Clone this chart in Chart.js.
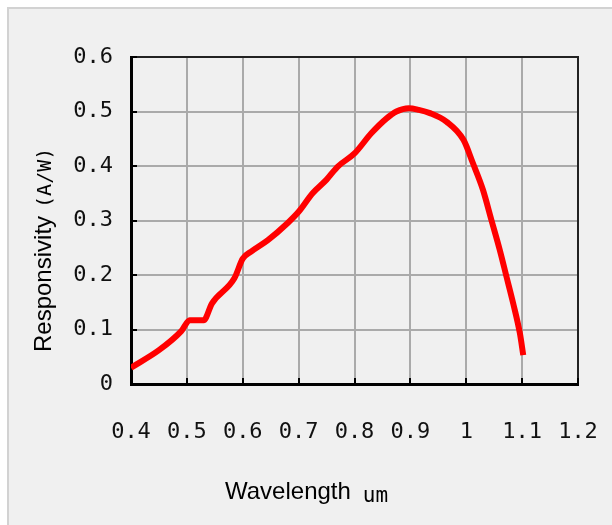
<!DOCTYPE html>
<html>
<head>
<meta charset="utf-8">
<script src="https://cdn.jsdelivr.net/npm/chart.js@4.4.1/dist/chart.umd.min.js"></script>
<style>
  html, body { margin: 0; padding: 0; background: #fff; }
  #wrap { position: relative; width: 612px; height: 525px; overflow: hidden; }
  #frame {
    position: absolute; left: 7px; top: 7px; right: 0; bottom: 0;
    background: #f0f0f0;
    border-left: 2px solid #d2d2d2;
    border-top: 2px solid #d2d2d2;
  }
  #chart { position: absolute; left: 0; top: 0; }
</style>
</head>
<body>
<div id="wrap">
  <div id="frame"></div>
  <canvas id="chart" width="612" height="525"></canvas>
</div>
<script>
// ─── Data ───
const wavelength = [0.40, 0.45, 0.49, 0.505, 0.53, 0.545, 0.585, 0.60, 0.615, 0.645,
                    0.68, 0.70, 0.725, 0.75, 0.77, 0.80, 0.83, 0.857, 0.875, 0.897,
                    0.915, 0.935, 0.965, 0.995, 1.012, 1.03, 1.045, 1.06, 1.072, 1.084,
                    1.096, 1.102];
const responsivity = [0.030, 0.062, 0.097, 0.117, 0.117, 0.148, 0.194, 0.230, 0.243, 0.264,
                      0.295, 0.316, 0.350, 0.375, 0.399, 0.423, 0.460, 0.487, 0.500, 0.506,
                      0.503, 0.497, 0.481, 0.448, 0.405, 0.356, 0.301, 0.246, 0.197, 0.148,
                      0.093, 0.053];
const xTitle = ['Wavelength', 'um'];
const yTitle = ['Responsivity', '(A/W)'];

const MONO = "'DejaVu Sans Mono', monospace";
const SANS = "'Liberation Sans', Arial, sans-serif";

function fmtTick(v) {
    return String(Math.round(v * 10) / 10);
}

// ─── Plot frame: thin top/right border + inward black ticks ───
const framePlugin = {
    id: 'frame',
    afterDraw(chart) {
        const { ctx, chartArea: a, scales: { x, y } } = chart;
        ctx.save();
        ctx.strokeStyle = '#222';
        ctx.lineWidth = 2;
        ctx.beginPath();
        ctx.moveTo(a.left, a.top);
        ctx.lineTo(a.right, a.top);
        ctx.lineTo(a.right, a.bottom);
        ctx.stroke();

        ctx.strokeStyle = '#000';
        ctx.beginPath();
        x.ticks.forEach(t => {
            const px = Math.round(x.getPixelForValue(t.value));
            ctx.moveTo(px, a.bottom);
            ctx.lineTo(px, a.bottom - 6);
        });
        y.ticks.forEach(t => {
            const py = Math.round(y.getPixelForValue(t.value));
            ctx.moveTo(a.left, py);
            ctx.lineTo(a.left + 6, py);
        });
        ctx.stroke();
        ctx.restore();
    }
};

// ─── Axis titles (mixed fonts, like the original) ───
const titlePlugin = {
    id: 'axisTitles',
    afterDraw(chart) {
        const { ctx } = chart;
        ctx.save();
        ctx.fillStyle = '#000';
        ctx.textBaseline = 'alphabetic';
        ctx.textAlign = 'left';

        // x title
        ctx.font = '24px ' + SANS;
        ctx.fillText(xTitle[0], 225, 499);
        const w0 = ctx.measureText(xTitle[0]).width;
        ctx.font = '21px ' + MONO;
        ctx.fillText(xTitle[1], 225 + w0 + 12, 502);

        // y title, rotated
        ctx.translate(51, 352);
        ctx.rotate(-Math.PI / 2);
        ctx.font = '24px ' + SANS;
        ctx.fillText(yTitle[0], 0, 0);
        const w1 = ctx.measureText(yTitle[0]).width;
        ctx.font = '20px ' + MONO;
        ctx.fillText(yTitle[1], w1 + 8, 0);
        ctx.restore();
    }
};

const ctx = document.getElementById('chart').getContext('2d');
new Chart(ctx, {
    type: 'line',
    data: {
        datasets: [{
            data: wavelength.map((w, i) => ({ x: w, y: responsivity[i] })),
            borderColor: '#ff0000',
            borderWidth: 6,
            cubicInterpolationMode: 'monotone',
            pointRadius: 0,
            fill: false
        }]
    },
    options: {
        responsive: false,
        animation: false,
        devicePixelRatio: 1,
        layout: { padding: { left: 0, top: 57, right: 34, bottom: 0 } },
        plugins: { legend: { display: false }, tooltip: { enabled: false } },
        scales: {
            x: {
                type: 'linear',
                min: 0.4,
                max: 1.2,
                afterFit: s => { s.height = 141; s.paddingLeft = 0; s.paddingRight = 0; },
                grid: { color: '#aaaaaa', lineWidth: 2, drawTicks: false },
                border: { color: '#000', width: 3 },
                ticks: {
                    stepSize: 0.1,
                    padding: 35,
                    color: '#111',
                    font: { family: MONO, size: 22 },
                    maxRotation: 0,
                    autoSkip: false,
                    callback: fmtTick
                }
            },
            y: {
                min: 0,
                max: 0.6,
                afterFit: s => { s.width = 131; s.paddingTop = 0; s.paddingBottom = 0; },
                grid: { color: '#aaaaaa', lineWidth: 2, drawTicks: false },
                border: { color: '#000', width: 3 },
                ticks: {
                    stepSize: 0.1,
                    padding: 18,
                    color: '#111',
                    font: { family: MONO, size: 22 },
                    callback: fmtTick
                }
            }
        }
    },
    plugins: [framePlugin, titlePlugin]
});
</script>
</body>
</html>
